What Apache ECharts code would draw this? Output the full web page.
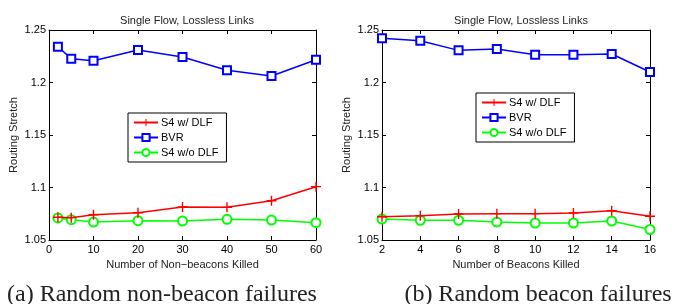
<!DOCTYPE html>
<html>
<head>
<meta charset="utf-8">
<script src="https://cdn.jsdelivr.net/npm/echarts@6/dist/echarts.min.js"></script>
<style>
  html, body { margin: 0; padding: 0; background: #fff; }
  #chart { width: 674px; height: 304px; }
</style>
</head>
<body>
<div id="chart"></div>
<script>
  // (a) non-beacons killed
  const nonBeaconKilled = [2, 5, 10, 20, 30, 40, 50, 60];
  const aWithDlf = [1.0716, 1.0713, 1.0741, 1.076, 1.0814, 1.0811, 1.0874, 1.1008];
  const aBvr = [1.234, 1.2227, 1.2208, 1.231, 1.2243, 1.2116, 1.2062, 1.2217];
  const aWithoutDlf = [1.071, 1.0693, 1.0671, 1.0684, 1.0681, 1.0697, 1.069, 1.0665];

  // (b) beacons killed
  const beaconKilled = [2, 4, 6, 8, 10, 12, 14, 16];
  const bWithDlf = [1.0722, 1.0732, 1.0748, 1.0751, 1.0751, 1.0757, 1.0779, 1.0726];
  const bBvr = [1.2421, 1.2398, 1.2306, 1.2319, 1.2265, 1.2265, 1.2271, 1.21];
  const bWithoutDlf = [1.07, 1.0688, 1.0688, 1.0671, 1.0662, 1.0662, 1.0681, 1.06];

  const seriesNames = ['S4 w/ DLF', 'BVR', 'S4 w/o DLF'];
  const chartTitle = 'Single Flow, Lossless Links';
  const yName = 'Routing Stretch';
  const xNames = ['Number of Non\u2212beacons Killed', 'Number of Beacons Killed'];
  const captions = ['(a) Random non-beacon failures', '(b) Random beacon failures'];

  const font = 'Liberation Sans, Arial, sans-serif';
  const serif = 'Liberation Serif, Times New Roman, serif';
  const plus = 'path://M4.3,0H5.7V4.3H10V5.7H5.7V10H4.3V5.7H0V4.3H4.3Z';

  const zip = (xs, ys) => xs.map((x, i) => [x, ys[i]]);

  const grids = [
    { left: 49, top: 30, width: 267, height: 210 },
    { left: 382, top: 30, width: 268, height: 210 }
  ];

  const yFmt = v => String(+v.toFixed(2));

  const makeX = (gi, min, max, interval, name) => ([
    {
      type: 'value', gridIndex: gi, min, max, interval, position: 'bottom',
      name, nameLocation: 'middle', nameGap: 18,
      nameTextStyle: { color: '#222', fontSize: 11, fontFamily: font },
      axisLine: { show: true, onZero: false, lineStyle: { color: '#000', width: 1 } },
      axisTick: { show: true, inside: true, length: 4, lineStyle: { color: '#000' } },
      axisLabel: { color: '#000', fontSize: 11, fontFamily: font, margin: 4 },
      splitLine: { show: false }
    },
    {
      type: 'value', gridIndex: gi, min, max, interval, position: 'top',
      axisLine: { show: true, onZero: false, lineStyle: { color: '#000', width: 1 } },
      axisTick: { show: true, inside: true, length: 4, lineStyle: { color: '#000' } },
      axisLabel: { show: false },
      splitLine: { show: false }
    }
  ]);

  const makeY = (gi, gap) => ([
    {
      type: 'value', gridIndex: gi, min: 1.05, max: 1.25, interval: 0.05, position: 'left',
      name: yName, nameLocation: 'middle', nameGap: gap, nameRotate: 90,
      nameTextStyle: { color: '#222', fontSize: 11, fontFamily: font },
      axisLine: { show: true, onZero: false, lineStyle: { color: '#000', width: 1 } },
      axisTick: { show: true, inside: true, length: 4, lineStyle: { color: '#000' } },
      axisLabel: { color: '#000', fontSize: 11, fontFamily: font, margin: 3, formatter: yFmt },
      splitLine: { show: false }
    },
    {
      type: 'value', gridIndex: gi, min: 1.05, max: 1.25, interval: 0.05, position: 'right',
      axisLine: { show: true, onZero: false, lineStyle: { color: '#000', width: 1 } },
      axisTick: { show: true, inside: true, length: 4, lineStyle: { color: '#000' } },
      axisLabel: { show: false },
      splitLine: { show: false }
    }
  ]);

  const makeSeries = (xi, yi, xs, dlf, bvr, nodlf) => ([
    {
      name: seriesNames[0], type: 'line', xAxisIndex: xi, yAxisIndex: yi,
      data: zip(xs, dlf), symbol: plus, symbolSize: 10,
      itemStyle: { color: '#ff0000' }, lineStyle: { color: '#ff0000', width: 1.5 },
      z: 4
    },
    {
      name: seriesNames[1], type: 'line', xAxisIndex: xi, yAxisIndex: yi,
      data: zip(xs, bvr), symbol: 'emptyRect', symbolSize: 8,
      itemStyle: { color: '#0000ff', borderWidth: 1.5 }, lineStyle: { color: '#0000ff', width: 1.5 },
      z: 3
    },
    {
      name: seriesNames[2], type: 'line', xAxisIndex: xi, yAxisIndex: yi,
      data: zip(xs, nodlf), symbol: 'emptyCircle', symbolSize: 9,
      itemStyle: { color: '#00ff00', borderWidth: 1.5 }, lineStyle: { color: '#00ff00', width: 1.5 },
      z: 2
    }
  ]);

  const makeLegend = (left, top) => ({
    orient: 'vertical', left, top, data: seriesNames,
    backgroundColor: '#fff', borderColor: '#000', borderWidth: 1,
    padding: [4, 8, 4, 5], itemGap: 4, itemWidth: 24, itemHeight: 9,
    textStyle: { color: '#000', fontSize: 11, fontFamily: font, padding: [0, 0, 0, -2] },
    selectedMode: false
  });

  const chart = echarts.init(document.getElementById('chart'), null, { renderer: 'canvas' });
  chart.setOption({
    animation: false,
    backgroundColor: '#fff',
    grid: grids,
    title: [
      { text: chartTitle, left: 182, top: 10, textAlign: 'center',
        textStyle: { fontSize: 11, fontWeight: 'normal', color: '#222', fontFamily: font } },
      { text: chartTitle, left: 516, top: 10, textAlign: 'center',
        textStyle: { fontSize: 11, fontWeight: 'normal', color: '#222', fontFamily: font } },
      { text: captions[0], left: 157, top: 278, textAlign: 'center',
        textStyle: { fontSize: 24, fontWeight: 'normal', color: '#222', fontFamily: serif } },
      { text: captions[1], left: 533, top: 278, textAlign: 'center',
        textStyle: { fontSize: 24, fontWeight: 'normal', color: '#222', fontFamily: serif } }
    ],
    legend: [makeLegend(128, 113), makeLegend(476, 93)],
    xAxis: [
      ...makeX(0, 0, 60, 10, xNames[0]),
      ...makeX(1, 2, 16, 2, xNames[1])
    ],
    yAxis: [
      ...makeY(0, 30),
      ...makeY(1, 30)
    ],
    series: [
      ...makeSeries(0, 0, nonBeaconKilled, aWithDlf, aBvr, aWithoutDlf),
      ...makeSeries(2, 2, beaconKilled, bWithDlf, bBvr, bWithoutDlf)
    ]
  });
</script>
</body>
</html>
